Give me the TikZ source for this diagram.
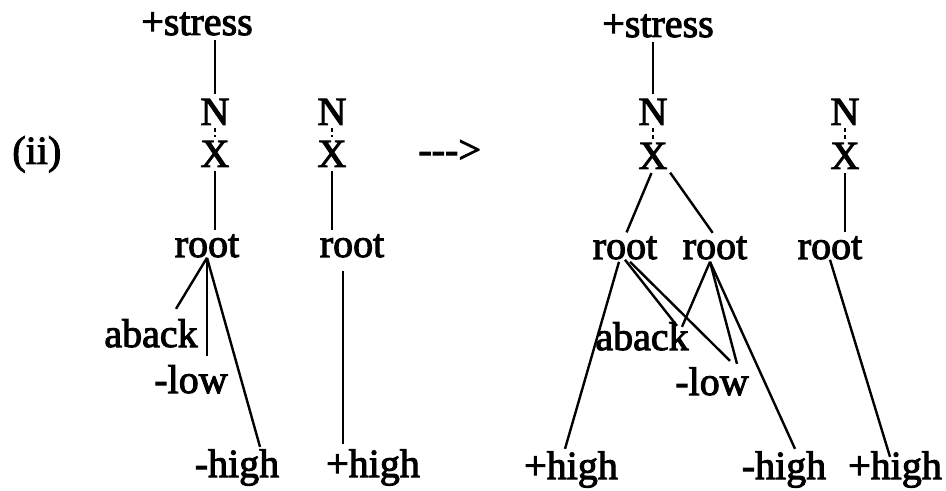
\documentclass[tikz,border=0pt]{standalone}
\usepackage{fontspec}
\newfontfamily\scanfont{Liberation Serif}[FakeBold=2.5]
\usetikzlibrary{calc}

\begin{document}
\begin{tikzpicture}[
    x=0.5pt, y=-0.5pt,
    txt/.style={inner sep=0pt, anchor=base, font=\scanfont\fontsize{20}{24}\selectfont},
    link/.style={line width=1.2pt, shorten <=2pt, shorten >=2pt},
    tick/.style={line width=1.2pt, dash pattern=on 2pt off 1.5pt, shorten <=1.5pt, shorten >=1.5pt},
    branch/.style={line width=1.2pt},
]
\useasboundingbox (0,0) rectangle (946,491);

% Left: first tier tree
\node[txt] (stressA) at (197,35) {+stress};
\node[txt] (nA) at (215,125) {N};
\node[txt] (xA) at (215,167) {X};
\node[txt] (rootA) at (207,257) {root};
\node[txt] (abackA) at (151,347) {aback};
\node[txt] (lowA) at (191,393) {-low};
\node[txt] (highA) at (237,477) {-high};

% Left: second tier tree
\node[txt] (nB) at (332,125) {N};
\node[txt] (xB) at (332,167) {X};
\node[txt] (rootB) at (352,257) {root};
\node[txt] (highB) at (373,477) {+high};

% Example number and arrow
\node[txt, anchor=base west] (ex) at (12,164) {(ii)};
\node[txt, anchor=base west] (goes) at (418,163) {-{}-{}->};

% Right: merged tree
\node[txt] (stressC) at (658,37) {+stress};
\node[txt] (nC) at (653,125) {N};
\node[txt] (xC) at (653,169) {X};
\node[txt] (rootC) at (625,259) {root};
\node[txt] (rootCC) at (715,259) {root};
\node[txt] (abackC) at (642,350) {aback};
\node[txt] (lowC) at (712,395) {-low};
\node[txt] (plusC) at (571,479) {+high};
\node[txt] (minusC) at (784,479) {-high};

% Right: single tree
\node[txt] (nD) at (845,125) {N};
\node[txt] (xD) at (845,169) {X};
\node[txt] (rootD) at (830,259) {root};
\node[txt] (plusD) at (895,479) {+high};

% Lines, left
\draw[link] (stressA.south -| nA) -- (nA.north);
\draw[tick] (nA.south) -- (xA.north);
\draw[link] (xA.south) -- (xA.south |- rootA.north);
\draw[branch] (rootA.south) -- ($(abackA.north)+(25,-10)$);
\draw[branch] (rootA.south) -- ($(lowA.north)+(16,-9)$);
\draw[branch] (rootA.south) -- ($(highA.north)+(23,-2)$);

\draw[tick] (nB.south) -- (xB.north);
\draw[link] (xB.south) -- (xB.south |- rootB.north);
\draw[branch] ($(rootB.south)+(-9,13)$) -- ($(highB.north)+(-30,-5)$);

% Lines, right
\draw[link] (stressC.south -| nC) -- (nC.north);
\draw[tick] (nC.south) -- (xC.north);
\draw[link] (xC.south) -- (rootC.north);
\draw[link] (xC.south east) -- (rootCC.north);
\draw[branch] ($(rootC.south)+(-6,2)$) -- ($(plusC.north)+(-6,-2)$);
\draw[branch] (rootC.south) -- ($(abackC.north)+(35,4)$);
\draw[branch] ($(rootC.south)+(5,2)$) -- ($(lowC.north)+(18,-6)$);
\draw[branch] ($(rootCC.south)+(-5,2)$) -- ($(abackC.north)+(40,5)$);
\draw[branch] ($(rootCC.south)+(-5,2)$) -- ($(lowC.north)+(25,-3)$);
\draw[branch] ($(rootCC.south)+(-5,2)$) -- ($(minusC.north)+(11,-2)$);

\draw[tick] (nD.south) -- (xD.north);
\draw[link] (xD.south) -- (xD.south |- rootD.north);
\draw[branch] (rootD.south) -- ($(plusD.north)+(-5,6)$);

\end{tikzpicture}
\end{document}
